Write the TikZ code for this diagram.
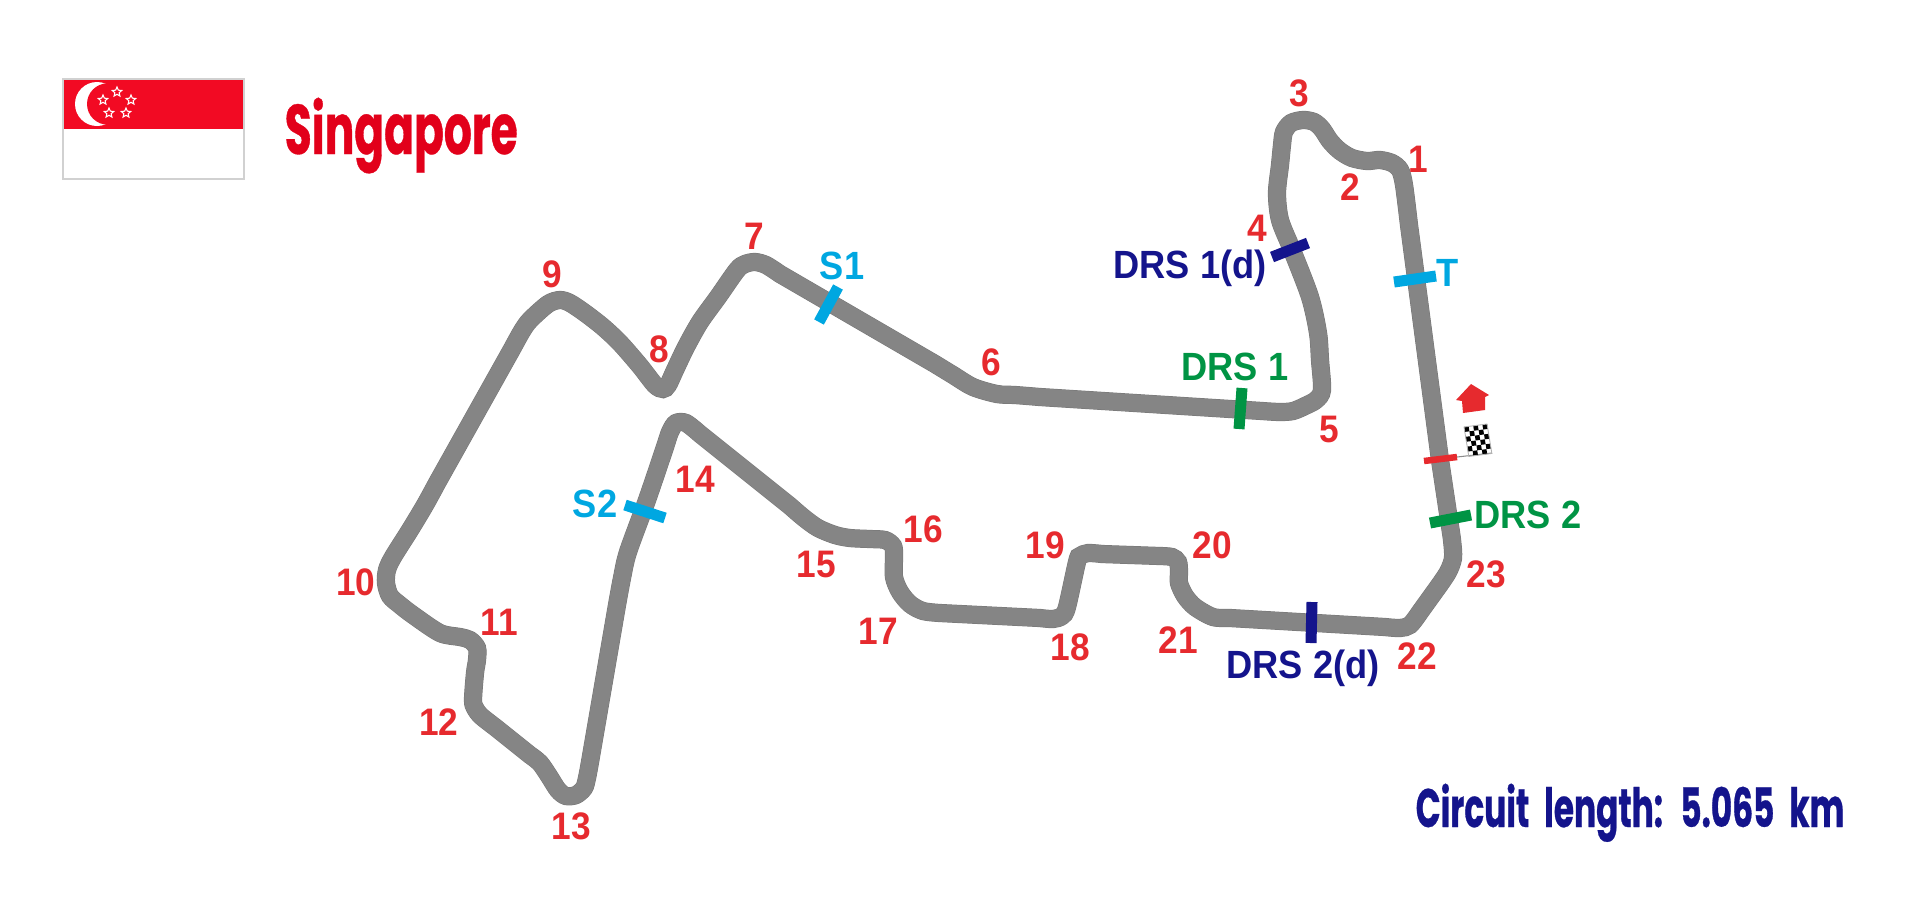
\documentclass[tikz,border=0pt]{standalone}
\usepackage{fontspec}
\usetikzlibrary{shapes.geometric}
\newfontfamily\labelfont[FakeStretch=.92]{Liberation Sans}
\newfontfamily\headfont[FakeStretch=.625,FakeBold=.5]{Poppins}
\newfontfamily\lengthfont[FakeStretch=.605,FakeBold=.5]{Poppins}
\definecolor{trackgray}{HTML}{858585}
\definecolor{trackedge}{HTML}{767676}
\definecolor{turnred}{HTML}{E62A2E}
\definecolor{titlered}{HTML}{E2001A}
\definecolor{flagred}{HTML}{F20A23}
\definecolor{drsblue}{HTML}{14148C}
\definecolor{drsgreen}{HTML}{009444}
\definecolor{sectorcyan}{HTML}{00A7E1}
\begin{document}
\begin{tikzpicture}[
    x=0.01cm, y=-0.01cm,
    track/.style={draw=trackgray, line width=0.172cm, line join=round, preaction={draw=trackedge, line width=0.182cm}},
    marker/.style={line width=0.11cm},
    turn/.style={text=turnred, inner sep=0pt, font=\labelfont\bfseries\fontsize{10.9}{12}\selectfont},
    zone/.style={inner sep=0pt, font=\labelfont\bfseries\fontsize{11.2}{13}\selectfont},
    flagstar/.style={star, star points=5, star point ratio=2.2, draw=white, line width=0.3pt, inner sep=0pt, minimum size=0.1cm}
]
    \useasboundingbox (0,0) rectangle (1909,908);

    % flag
    \fill[flagred] (63,79) rectangle (244,129);
    \fill[white] (97,104) circle (22);
    \fill[flagred] (107.7,104) circle (20.7);
    \foreach \sx/\sy [count=\k] in {117/92, 103/100, 131/100, 109/113, 126/113}
        \node[flagstar] (star\k) at (\sx,\sy) {};
    \draw[black!18, line width=0.55pt] (63,79) rectangle (244,179);

    % circuit
    \draw[track] (1440,460)
        -- plot[smooth] coordinates {(1409,225) (1404,185) (1400,170) (1392,163) (1380,160) (1367,161) (1352,158) (1340,151) (1330,141) (1322,129) (1314,122) (1303,120) (1291,123) (1284,132) (1282,145) (1280,165) (1277,193) (1280,220) (1292,250) (1310,297) (1318,333) (1320,360) (1322,390) (1316,400) (1305,406) (1293,411) (1280,412) (1262,411)}
        -- plot[smooth] coordinates {(1040,397) (1015,395) (997,394) (973,387) (953,375) (935,364)}
        -- plot[smooth] coordinates {(780,274) (766,265) (755,262) (745,264) (737,270) (718,297) (700,322) (686,347) (675,370) (668,385) (663,389) (655,385) (640,366) (620,343) (603,327) (585,313) (570,303) (560,300) (548,304) (530,320) (522,331) (512,349)}
        -- plot[smooth] coordinates {(437,483) (425,505) (410,530) (393,557) (387,570) (386,583) (390,596) (400,605) (413,615) (440,633) (460,637) (470,640) (477,648) (477,660) (475,673) (473,700) (475,708) (481,716) (495,727)}
        -- plot[smooth] coordinates {(530,755) (540,763) (549,776) (558,790) (566,796) (576,795) (584,788) (587,778) (590,762)}
        -- plot[smooth] coordinates {(617,605) (622,578) (628,552) (647,500) (664,450) (670,432) (676,423) (686,423) (700,434)}
        -- plot[smooth] coordinates {(790,506) (804,518) (818,528) (835,535) (850,538) (870,539) (885,540) (893,546) (894,556) (894,577) (900,592) (910,604) (923,611) (940,613)}
        -- plot[smooth] coordinates {(1040,618) (1053,619) (1062,616) (1067,607) (1077,562) (1080,556) (1088,553) (1102,554)}
        -- plot[smooth] coordinates {(1160,556) (1172,557) (1178,562) (1179,572) (1179,583) (1185,596) (1195,607) (1213,617) (1230,618)}
        -- plot[smooth] coordinates {(1385,627) (1400,628) (1410,625) (1420,612)}
        -- plot[smooth] coordinates {(1438,587) (1448,572) (1453,558) (1452,540) (1449,520)}
        -- cycle;

    % sector, drs and finish marks
    \draw[marker, sectorcyan] (1394,282) -- (1436,276);
    \draw[marker, sectorcyan] (838,287) -- (819,322);
    \draw[marker, sectorcyan] (625,505) -- (665,518);
    \draw[marker, drsgreen] (1242,388) -- (1239,429);
    \draw[marker, drsgreen] (1430,523) -- (1471,515);
    \draw[marker, drsblue] (1272,257) -- (1308,243);
    \draw[marker, drsblue] (1312,602) -- (1311,643);
    \draw[turnred, line width=0.065cm] (1424,461) -- (1457,457);
    \draw[black!45, line width=0.3pt] (1457,457) -- (1492,453);

    % chequered flag and arrow
    \begin{scope}[shift={(1464,427)}, x={(0.046cm,0.006cm)}, y={(0.008cm,-0.049cm)}]
        \foreach \i in {0,...,4}
            \foreach \j in {0,...,5} {
                \pgfmathtruncatemacro{\cell}{mod(\i+\j,2)}
                \ifnum\cell=0
                    \fill[black] (\i,\j) -- ++(1,0) -- ++(0,1) -- ++(-1,0) -- cycle;
                \fi
            }
        \draw[black!30, line width=0.25pt] (0,0) -- (5,0) -- (5,6) -- (0,6) -- cycle;
    \end{scope}
    \fill[turnred] (1471,384) -- (1489,395) -- (1485,397) -- (1485,410) -- (1463,413) -- (1462,401) -- (1456,400) -- cycle;

    % turn numbers
    \node[turn] (t1) at (1418,159) {1};
    \node[turn] (t2) at (1350,187) {2};
    \node[turn] (t3) at (1299,93) {3};
    \node[turn] (t4) at (1257,228) {4};
    \node[turn] (t5) at (1329,429) {5};
    \node[turn] (t6) at (991,362) {6};
    \node[turn] (t7) at (754,236) {7};
    \node[turn] (t8) at (659,349) {8};
    \node[turn] (t9) at (552,274) {9};
    \node[turn] (t10) at (356,582) {10};
    \node[turn] (t11) at (499,622) {11};
    \node[turn] (t12) at (439,722) {12};
    \node[turn] (t13) at (571,826) {13};
    \node[turn] (t14) at (695,479) {14};
    \node[turn] (t15) at (816,564) {15};
    \node[turn] (t16) at (923,529) {16};
    \node[turn] (t17) at (878,631) {17};
    \node[turn] (t18) at (1070,647) {18};
    \node[turn] (t19) at (1045,545) {19};
    \node[turn] (t20) at (1212,545) {20};
    \node[turn] (t21) at (1178,640) {21};
    \node[turn] (t22) at (1417,656) {22};
    \node[turn] (t23) at (1486,574) {23};

    % zone labels
    \node[zone, text=drsblue] (drs1d) at (1190,268) {DRS 1(d)};
    \node[zone, text=drsblue] (drs2d) at (1303,668) {DRS 2(d)};
    \node[zone, text=drsgreen] (drs1) at (1235,367) {DRS 1};
    \node[zone, text=drsgreen] (drs2) at (1528,515) {DRS 2};
    \node[zone, text=sectorcyan] (tlabel) at (1448,273) {T};
    \node[zone, text=sectorcyan] (s1) at (842,266) {S1};
    \node[zone, text=sectorcyan] (s2) at (595,504) {S2};

    % headings
    \node[anchor=base west, inner sep=0pt, text=titlered, font=\headfont\bfseries\fontsize{20}{24}\selectfont] (title) at (284,154) {Singapore};
    \node[anchor=base west, inner sep=0pt, text=drsblue, font=\lengthfont\bfseries\fontsize{15.4}{18}\selectfont] (length) at (1415,827) {Circuit\hspace{0.08cm} length:\hspace{0.08cm} 5.065\hspace{0.08cm} km};
\end{tikzpicture}
\end{document}
